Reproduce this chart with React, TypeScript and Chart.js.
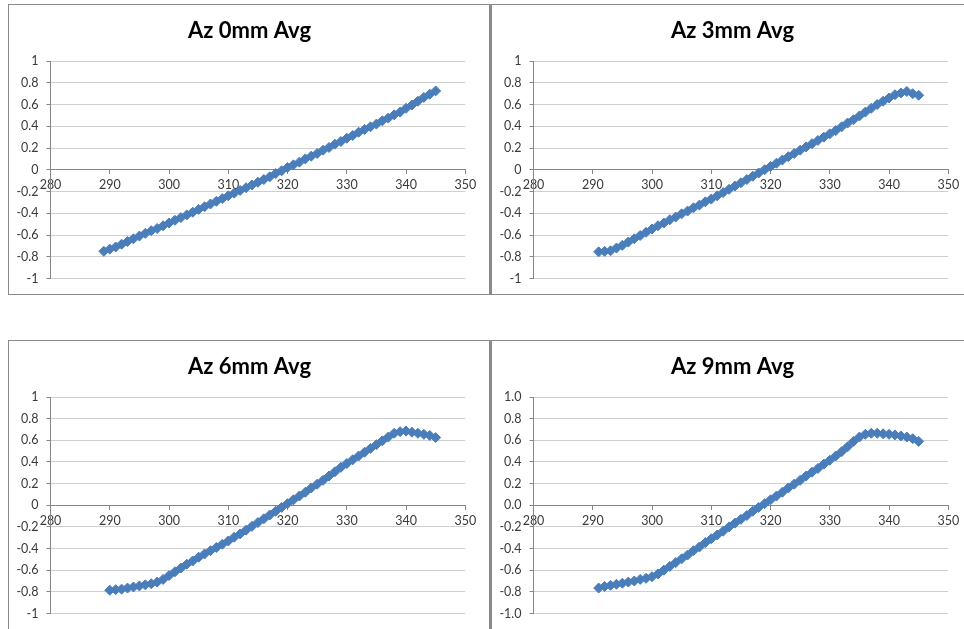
import React, { useEffect, useRef } from "react";
import { Chart, registerables } from "chart.js";

Chart.register(...registerables);

// ---------- data ----------
const AZ0_X = [289, 290, 291, 292, 293, 294, 295, 296, 297, 298, 299, 300, 301, 302, 303, 304, 305, 306, 307, 308, 309, 310, 311, 312, 313, 314, 315, 316, 317, 318, 319, 320, 321, 322, 323, 324, 325, 326, 327, 328, 329, 330, 331, 332, 333, 334, 335, 336, 337, 338, 339, 340, 341, 342, 343, 344, 345];
const AZ0_Y = [-0.75, -0.73, -0.71, -0.685, -0.66, -0.635, -0.61, -0.585, -0.56, -0.54, -0.515,
  -0.49, -0.465, -0.44, -0.415, -0.39, -0.365, -0.34, -0.315, -0.29, -0.265,
  -0.24, -0.215, -0.19, -0.165, -0.14, -0.115, -0.09, -0.065, -0.035, -0.01,
  0.02, 0.045, 0.07, 0.1, 0.125, 0.15, 0.18, 0.205, 0.235, 0.26,
  0.29, 0.315, 0.345, 0.37, 0.395, 0.42, 0.45, 0.475, 0.505, 0.53,
  0.565, 0.595, 0.63, 0.665, 0.695, 0.725];

const AZ3_X = [291, 292, 293, 294, 295, 296, 297, 298, 299, 300, 301, 302, 303, 304, 305, 306, 307, 308, 309, 310, 311, 312, 313, 314, 315, 316, 317, 318, 319, 320, 321, 322, 323, 324, 325, 326, 327, 328, 329, 330, 331, 332, 333, 334, 335, 336, 337, 338, 339, 340, 341, 342, 343, 344, 345];
const AZ3_Y = [-0.755, -0.75, -0.745, -0.72, -0.695, -0.665, -0.635, -0.605, -0.575,
  -0.545, -0.515, -0.49, -0.46, -0.435, -0.405, -0.38, -0.35, -0.325, -0.295,
  -0.27, -0.24, -0.21, -0.18, -0.15, -0.12, -0.09, -0.06, -0.03, 0.0,
  0.03, 0.06, 0.09, 0.12, 0.15, 0.18, 0.21, 0.24, 0.27, 0.3,
  0.33, 0.36, 0.395, 0.43, 0.46, 0.495, 0.53, 0.565, 0.6, 0.63,
  0.66, 0.69, 0.705, 0.72, 0.7, 0.685];

const AZ6_X = [290, 291, 292, 293, 294, 295, 296, 297, 298, 299, 300, 301, 302, 303, 304, 305, 306, 307, 308, 309, 310, 311, 312, 313, 314, 315, 316, 317, 318, 319, 320, 321, 322, 323, 324, 325, 326, 327, 328, 329, 330, 331, 332, 333, 334, 335, 336, 337, 338, 339, 340, 341, 342, 343, 344, 345];
const AZ6_Y = [-0.785, -0.78, -0.775, -0.765, -0.755, -0.745, -0.735, -0.725, -0.71, -0.685,
  -0.65, -0.615, -0.58, -0.545, -0.515, -0.48, -0.45, -0.42, -0.39, -0.36,
  -0.33, -0.295, -0.265, -0.23, -0.195, -0.16, -0.125, -0.09, -0.055, -0.02,
  0.015, 0.05, 0.085, 0.12, 0.16, 0.195, 0.23, 0.27, 0.31, 0.35,
  0.385, 0.42, 0.455, 0.49, 0.525, 0.56, 0.595, 0.63, 0.665, 0.68,
  0.685, 0.675, 0.665, 0.655, 0.645, 0.625];

const AZ9_X = [291, 292, 293, 294, 295, 296, 297, 298, 299, 300, 301, 302, 303, 304, 305, 306, 307, 308, 309, 310, 311, 312, 313, 314, 315, 316, 317, 318, 319, 320, 321, 322, 323, 324, 325, 326, 327, 328, 329, 330, 331, 332, 333, 334, 335, 336, 337, 338, 339, 340, 341, 342, 343, 344, 345];
const AZ9_Y = [-0.765, -0.75, -0.74, -0.73, -0.72, -0.71, -0.7, -0.685, -0.675,
  -0.66, -0.635, -0.6, -0.565, -0.53, -0.495, -0.46, -0.42, -0.385, -0.345,
  -0.31, -0.275, -0.24, -0.2, -0.165, -0.13, -0.095, -0.055, -0.02, 0.015,
  0.05, 0.085, 0.12, 0.16, 0.195, 0.23, 0.27, 0.305, 0.34, 0.38,
  0.415, 0.455, 0.495, 0.54, 0.59, 0.63, 0.655, 0.665, 0.665, 0.66,
  0.655, 0.65, 0.64, 0.63, 0.615, 0.59];

const TITLES = ["Az 0mm Avg", "Az 3mm Avg", "Az 6mm Avg", "Az 9mm Avg"];
const X_MIN = 280;
const X_MAX = 350;
const X_STEP = 10;
const Y_MIN = -1;
const Y_MAX = 1;
const Y_STEP = 0.2;

const LINE_COLOR = "#4A7EBB";
const TICK_COLOR = "#3a3a3a";
const AXIS_COLOR = "#868686";
const GRID_COLOR = "#cfcfcf";
const FONT = "Lato, 'Open Sans', sans-serif";
const CANVAS_W = 481;

type PanelProps = {
  title: string;
  xs: number[];
  ys: number[];
  fixedDecimals: boolean;
  left: number;
  top: number;
  borderLeft: number;
  borderBottom: number;
  h: number;
};

function Panel(p: PanelProps) {
  const ref = useRef<HTMLCanvasElement | null>(null);
  const w = CANVAS_W;
  useEffect(() => {
    if (!ref.current) return;
    const chartLeft = 41.5;
    const chartRight = 456.3;
    const chartBottom = 274;
    const chart = new Chart(ref.current, {
      type: "scatter",
      data: {
        datasets: [
          {
            data: p.xs.map((x, i) => ({ x, y: p.ys[i] })),
            showLine: true,
            borderColor: LINE_COLOR,
            backgroundColor: LINE_COLOR,
            borderWidth: 3,
            pointStyle: "rectRot",
            pointRadius: 5,
            pointBorderWidth: 1,
            pointBorderColor: LINE_COLOR,
            pointBackgroundColor: LINE_COLOR,
          },
        ],
      },
      options: {
        responsive: false,
        animation: false,
        devicePixelRatio: 1,
        layout: {
          padding: { left: 0, top: 0, right: 0, bottom: p.h - chartBottom },
        },
        plugins: {
          legend: { display: false },
          tooltip: { enabled: false },
          title: {
            display: true,
            text: p.title,
            color: "#000",
            font: { family: FONT, size: 22, weight: "bold" },
            padding: { top: 13, bottom: 16.6 },
          },
        },
        scales: {
          x: {
            type: "linear",
            position: { y: 0 } as any,
            min: X_MIN,
            max: X_MAX,
            ticks: {
              stepSize: X_STEP,
              color: TICK_COLOR,
              font: { family: FONT, size: 12.5 },
              padding: 4,
              maxRotation: 0,
              autoSkip: false,
            },
            grid: { drawOnChartArea: false, drawTicks: true, tickLength: 4, color: AXIS_COLOR },
            border: { color: AXIS_COLOR, width: 1 },
          },
          y: {
            type: "linear",
            position: "left",
            min: Y_MIN,
            max: Y_MAX,
            ticks: {
              stepSize: Y_STEP,
              color: TICK_COLOR,
              font: { family: FONT, size: 12.5 },
              padding: 8,
              callback: (v: any) => {
                const n = Math.round(Number(v) * 10) / 10;
                return p.fixedDecimals ? n.toFixed(1) : String(n);
              },
            },
            grid: { color: GRID_COLOR, tickColor: AXIS_COLOR, tickLength: 4, lineWidth: 1 },
            border: { color: AXIS_COLOR, width: 1 },
            afterFit: (s: any) => {
              s.width = chartLeft;
            },
          },
          yRight: {
            type: "linear",
            position: "right",
            display: true,
            min: Y_MIN,
            max: Y_MAX,
            ticks: { display: false },
            grid: { display: false, drawOnChartArea: false, drawTicks: false },
            border: { display: false },
            afterFit: (s: any) => {
              s.width = w - chartRight;
            },
          },
        },
      } as any,
    });
    return () => chart.destroy();
  }, []);

  return (
    <div
      style={{
        position: "absolute",
        left: p.left,
        top: p.top,
        width: w,
        height: p.h,
        borderTop: "1px solid #8a8a8a",
        borderLeft: `${p.borderLeft}px solid #8a8a8a`,
        borderBottom: p.borderBottom ? `${p.borderBottom}px solid #8a8a8a` : "none",
        borderRight: "none",
        background: "#fff",
        overflow: "hidden",
      }}
    >
      <canvas
        ref={ref}
        width={w}
        height={p.h}
        style={{ position: "absolute", left: 0, top: 0, width: w, height: p.h }}
      />
    </div>
  );
}

export default function App() {
  return (
    <div style={{ position: "absolute", left: 0, top: 0, width: 964, height: 629, background: "#fff", overflow: "hidden" }}>
      <Panel title={TITLES[0]} xs={AZ0_X} ys={AZ0_Y} fixedDecimals={false} left={8} top={4} borderLeft={1} borderBottom={1} h={289} />
      <Panel title={TITLES[2]} xs={AZ6_X} ys={AZ6_Y} fixedDecimals={false} left={8} top={340} borderLeft={1} borderBottom={0} h={288} />
      <Panel title={TITLES[1]} xs={AZ3_X} ys={AZ3_Y} fixedDecimals={false} left={489} top={4} borderLeft={3} borderBottom={1} h={289} />
      <Panel title={TITLES[3]} xs={AZ9_X} ys={AZ9_Y} fixedDecimals={true} left={489} top={340} borderLeft={3} borderBottom={0} h={288} />
    </div>
  );
}
